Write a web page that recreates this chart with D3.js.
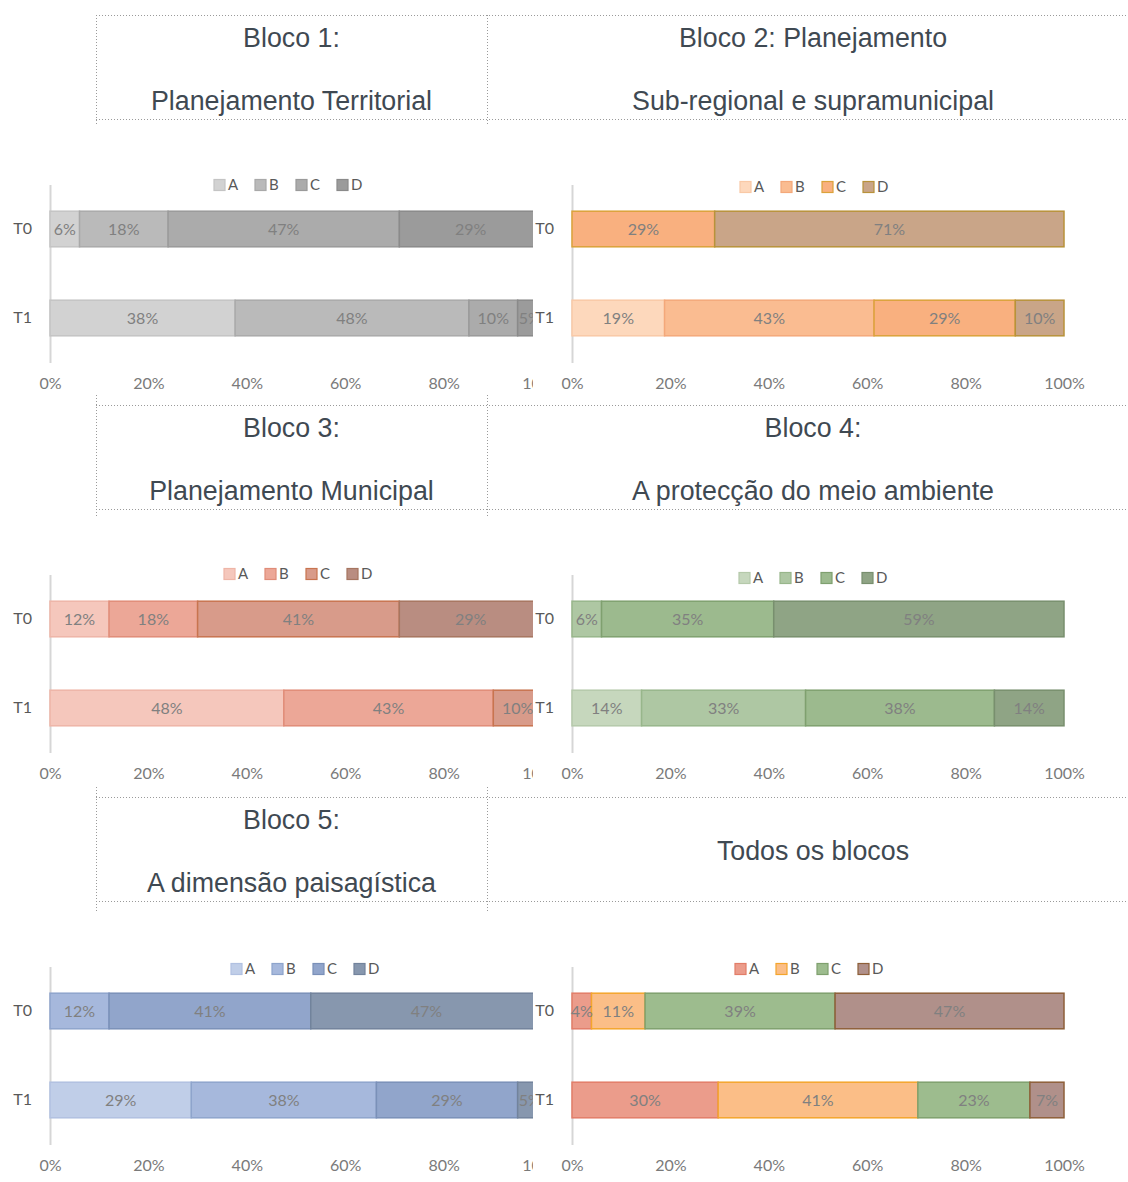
<!DOCTYPE html>
<html>
<head>
<meta charset="utf-8">
<script src="https://cdn.jsdelivr.net/npm/d3@7"></script>
<style>
  body { margin: 0; background: #fff; }
</style>
</head>
<body>
<div id="chart"></div>
<script>
// series, rows and ticks
var series = ["A", "B", "C", "D"];
var rows = ["T0", "T1"];
var tickValues = [0, 0.2, 0.4, 0.6, 0.8, 1];

// values (%) per row [A, B, C, D]
var bloco1 = [[6, 18, 47, 29], [38, 48, 10, 5]];
var bloco2 = [[0, 0, 29, 71], [19, 43, 29, 10]];
var bloco3 = [[12, 18, 41, 29], [48, 43, 10, 0]];
var bloco4 = [[0, 6, 35, 59], [14, 33, 38, 14]];
var bloco5 = [[0, 12, 41, 47], [29, 38, 29, 5]];
var todos  = [[4, 11, 39, 47], [30, 41, 23, 7]];

// header texts, one cell per chart
var headers = [
  ["Bloco 1:", "Planejamento Territorial"],
  ["Bloco 2: Planejamento", "Sub-regional e supramunicipal"],
  ["Bloco 3:", "Planejamento Municipal"],
  ["Bloco 4:", "A protecção do meio ambiente"],
  ["Bloco 5:", "A dimensão paisagística"],
  ["Todos os blocos"]
];

// colours per block: fill and border of A..D
var palettes = [
  {fill: ["#d2d2d2", "#bababa", "#ababab", "#9b9b9b"], stroke: ["#c4c4c4", "#a9a9a9", "#9a9a9a", "#8a8a8a"]},
  {fill: ["#fdd8bc", "#fabc91", "#f9b07f", "#c9a588"], stroke: ["#f9c9a6", "#f4a87a", "#dba23a", "#b8923a"]},
  {fill: ["#f5c7bc", "#eca797", "#d89b8a", "#b98d81"], stroke: ["#eeb5a7", "#e08c78", "#c8744f", "#a67560"]},
  {fill: ["#c6d7bd", "#aec7a3", "#9cba8e", "#8fa485"], stroke: ["#b5c9aa", "#98b68b", "#7fa06f", "#788f6e"]},
  {fill: ["#c0cee8", "#a6b8dc", "#91a5cb", "#8797ae"], stroke: ["#b1c1e1", "#8ea4cc", "#7a90b8", "#72839c"]},
  {fill: ["#eb9c8b", "#fbbe87", "#9dbc8e", "#b0908a"], stroke: ["#e27d68", "#f4a52c", "#7fa06e", "#8e5f38"]}
];

var blocks = [bloco1, bloco2, bloco3, bloco4, bloco5, todos];

var W = 1128, H = 1182;
var headerTops = [15, 405, 797];
var panelTops = [170, 560, 952];
var plotLefts = [50, 572];
var plotW = 492;
// small legend shifts, as in the picture
var legendShift = [[-7, 15], [-3, 17], [3, 14], [-4, 18], [10, 17], [-8, 17]];

var svg = d3.select("#chart")
  .append("svg")
    .attr("width", W)
    .attr("height", H);

svg.append("defs").append("clipPath")
    .attr("id", "clipLeft")
  .append("rect")
    .attr("x", 0).attr("y", 0)
    .attr("width", 533).attr("height", H);

// dotted header grid
var grid = svg.append("g")
    .attr("stroke", "#9a9a9a")
    .attr("stroke-width", 1)
    .attr("stroke-dasharray", "1,2")
    .attr("fill", "none");

headerTops.forEach(function(t, r) {
  grid.append("line").attr("x1", 96).attr("x2", W).attr("y1", t + 0.5).attr("y2", t + 0.5);
  grid.append("line").attr("x1", 96).attr("x2", W).attr("y1", t + 104.5).attr("y2", t + 104.5);
  [96.5, 487.5].forEach(function(x) {
    grid.append("line").attr("x1", x).attr("x2", x)
      .attr("y1", r == 0 ? t : t - 10).attr("y2", t + (r == 2 ? 115 : 111));
  });
});

// header texts
var headFont = "'Liberation Sans', Helvetica, Arial, sans-serif";
headers.forEach(function(h, i) {
  var col = i % 2, row = Math.floor(i / 2);
  var cx = col == 0 ? 291.5 : 813;
  var t = headerTops[row];
  var lines = h.length == 2 ? [t + 32, t + 95] : [t + 63];
  h.forEach(function(s, k) {
    svg.append("text")
      .attr("x", cx)
      .attr("y", lines[k])
      .attr("text-anchor", "middle")
      .style("font-family", headFont)
      .style("font-size", "26.8px")
      .style("fill", "#3f4952")
      .text(s);
  });
});

var chartFont = "Lato, 'Open Sans', sans-serif";

blocks.forEach(function(data, i) {
  var col = i % 2, row = Math.floor(i / 2);
  var left = plotLefts[col], top = panelTops[row];
  var pal = palettes[i];

  // the left chart runs under the right one, so it is cut at x = 533
  var g;
  if (col == 0) {
    g = svg.append("g").attr("clip-path", "url(#clipLeft)")
      .append("g").attr("transform", "translate(" + left + "," + top + ")");
  } else {
    g = svg.append("g").attr("transform", "translate(" + left + "," + top + ")");
  }

  var x = d3.scaleLinear().domain([0, 1]).range([0, plotW]);
  var y = d3.scaleBand().domain(rows).range([14.5, 192.5])
    .paddingInner(0.6).paddingOuter(0.3);

  // 100% stacked layout
  var stacked = d3.stack()
    .keys(d3.range(series.length))
    .value(function(d, k) { return d[k]; })
    .offset(d3.stackOffsetExpand)(data);

  // left axis with the vertical line
  var ya = g.append("g")
    .call(d3.axisLeft(y).tickSize(0).tickSizeOuter(0).tickPadding(18));
  ya.select(".domain").attr("stroke", "#d6d6d6").attr("stroke-width", 2);
  ya.selectAll("text")
    .attr("font-family", chartFont)
    .attr("font-size", 16)
    .attr("fill", "#595959");

  // bottom tick labels
  var xa = g.append("g")
    .attr("transform", "translate(0,205)")
    .call(d3.axisBottom(x).tickValues(tickValues).tickFormat(d3.format(".0%"))
      .tickSize(0).tickPadding(3));
  xa.select(".domain").remove();
  xa.selectAll("text")
    .attr("font-family", chartFont)
    .attr("font-size", 16)
    .attr("fill", "#7a7a7a");

  // bars
  stacked.forEach(function(layer, k) {
    layer.forEach(function(p, j) {
      if (data[j][k] <= 0) return;
      var x0 = x(p[0]), x1 = x(p[1]);
      g.append("rect")
        .attr("x", x0)
        .attr("y", y(rows[j]))
        .attr("width", x1 - x0)
        .attr("height", y.bandwidth())
        .attr("fill", pal.fill[k])
        .attr("stroke", pal.stroke[k])
        .attr("stroke-width", 1.5);
    });
  });

  // labels on bars
  stacked.forEach(function(layer, k) {
    layer.forEach(function(p, j) {
      if (data[j][k] <= 0) return;
      g.append("text")
        .attr("x", (x(p[0]) + x(p[1])) / 2)
        .attr("y", y(rows[j]) + y.bandwidth() / 2)
        .attr("dy", "0.36em")
        .attr("text-anchor", "middle")
        .attr("font-family", chartFont)
        .attr("font-size", 16)
        .attr("fill", "#808080")
        .text(data[j][k] + "%");
    });
  });

  // legend
  var lg = g.append("g")
    .attr("transform", "translate(" + (plotW / 2 + legendShift[i][0] - 75) + "," + legendShift[i][1] + ")");
  series.forEach(function(s, k) {
    lg.append("rect")
      .attr("x", k * 41)
      .attr("y", -5.5)
      .attr("width", 11)
      .attr("height", 11)
      .attr("fill", pal.fill[k])
      .attr("stroke", pal.stroke[k])
      .attr("stroke-width", 1.2);
    lg.append("text")
      .attr("x", k * 41 + 14)
      .attr("y", 0)
      .attr("dy", "0.36em")
      .attr("font-family", chartFont)
      .attr("font-size", 15)
      .attr("fill", "#595959")
      .text(s);
  });
});
</script>
</body>
</html>
